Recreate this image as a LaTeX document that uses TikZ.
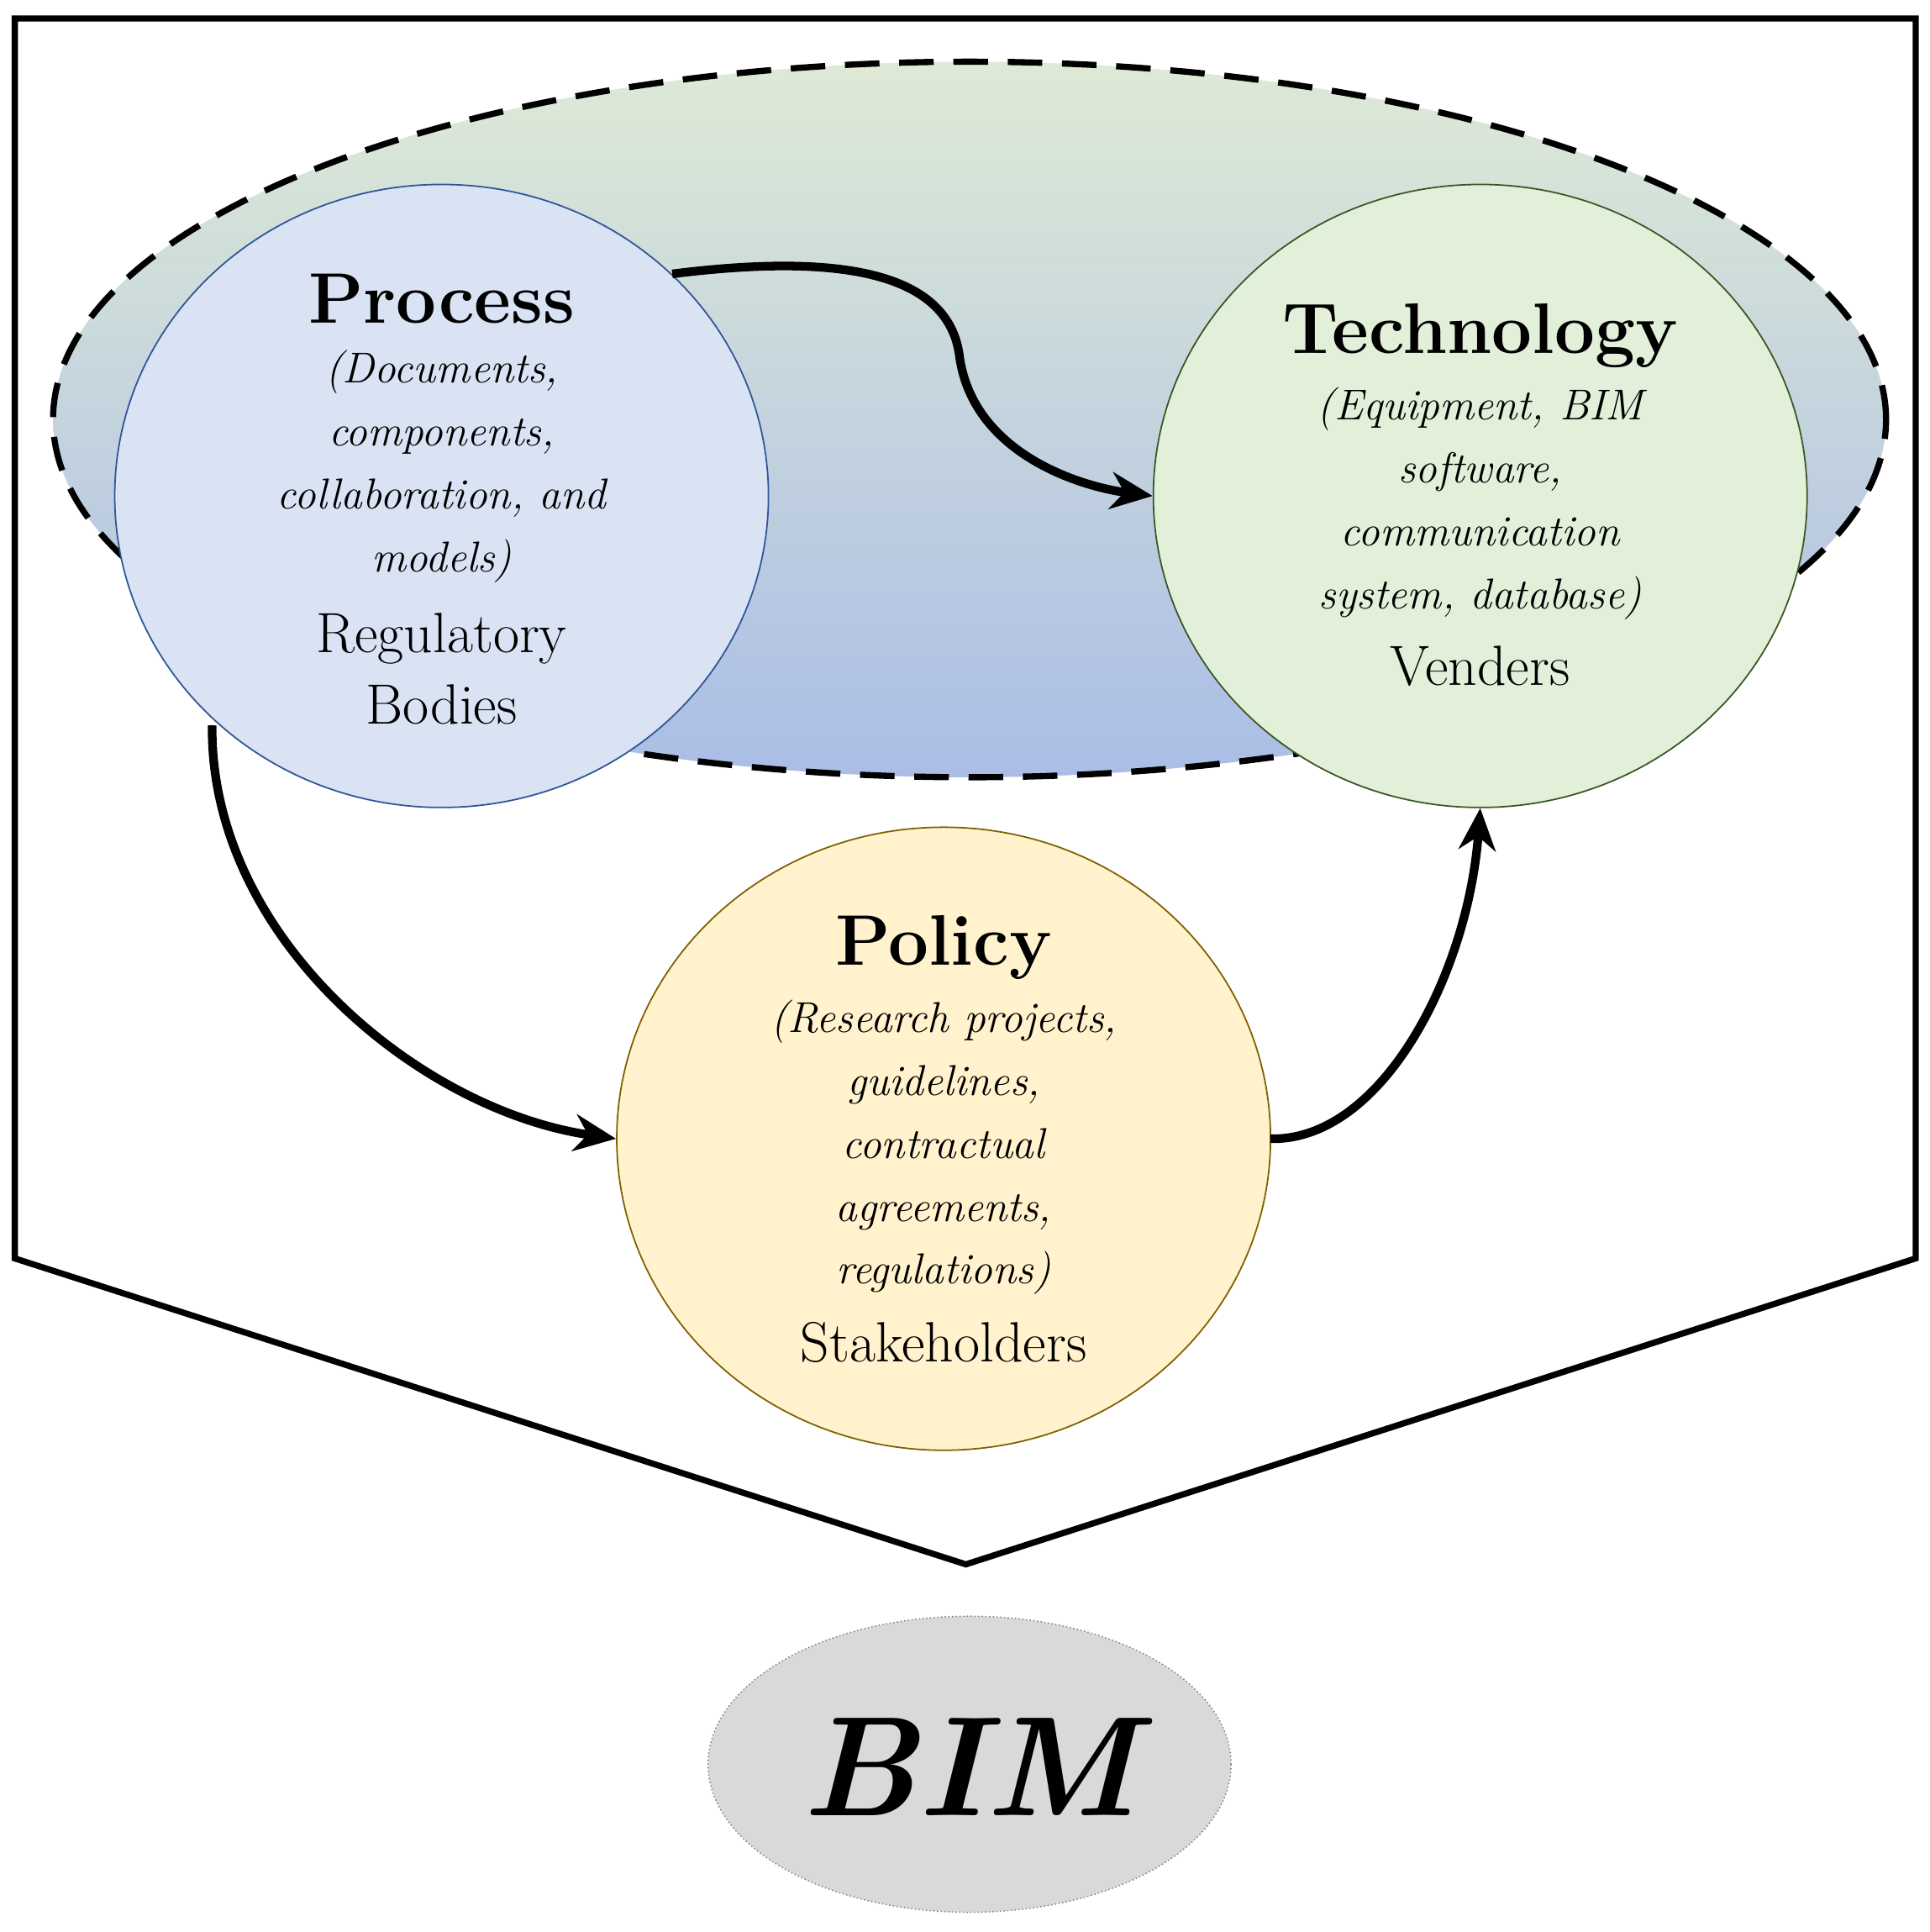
\documentclass[tikz,border=0pt]{standalone}
\usepackage{tikz}
\usetikzlibrary{shapes.geometric,arrows.meta}
\begin{document}
\begin{tikzpicture}[x=1pt,y=-1pt,
  circ/.style={ellipse,minimum width=530pt,minimum height=505pt,inner sep=0pt,line width=1.2pt,align=center},
  arr/.style={line width=7pt,-{Stealth[length=34pt,width=30pt]}},
  ttl/.style={font=\fontsize{58}{62}\selectfont\bfseries},
  itl/.style={font=\fontsize{35}{51}\selectfont\itshape},
  sub/.style={font=\fontsize{46}{58}\selectfont}]
\useasboundingbox (0,0) rectangle (1564,1566);
\fill[white] (0,0) rectangle (1564,1566);
\draw[line width=5pt,line join=miter] (12,15) -- (1553,15) -- (1553,1020) -- (783,1268) -- (12,1020) -- cycle;
\node[ellipse,minimum width=1486pt,minimum height=580pt,top color={rgb,255:red,222;green,234;blue,214},bottom color={rgb,255:red,170;green,189;blue,230},
  draw,line width=5pt,dash pattern=on 28pt off 16pt] (big) at (786,340) {};
\node[circ,draw={rgb,255:red,47;green,85;blue,151},fill={rgb,255:red,217;green,227;blue,243}] (proc) at (358,402) {};
\node[circ,draw={rgb,255:red,56;green,87;blue,35},fill={rgb,255:red,226;green,239;blue,217}] (tech) at (1200,402) {};
\node[circ,draw={rgb,255:red,127;green,96;blue,0},fill={rgb,255:red,255;green,242;blue,204}] (pol) at (765,923) {};
\node[ellipse,minimum width=424pt,minimum height=240pt,fill={rgb,255:red,217;green,217;blue,217},draw=gray,dotted,line width=1pt] (bim) at (786,1430) {};
\node[font=\fontsize{115}{120}\selectfont\bfseries\itshape] (bimt) at (786,1432) {BIM};
% texts
\node[ttl] (pt) at (358,242) {Process};
\node[itl,align=center] (pi) at (358,378) {(Documents,\\components,\\collaboration, and\\models)};
\node[sub,align=center] (ps) at (358,542) {Regulatory\\Bodies};
\node[ttl] (tt) at (1200,272) {Technology};
\node[itl,align=center] (ti) at (1200,408) {(Equipment, BIM\\software,\\communication\\system, database)};
\node[sub] (ts) at (1200,540) {Venders};
\node[ttl] (plt) at (765,768) {Policy};
\node[itl,align=center] (pli) at (765,930) {(Research projects,\\guidelines,\\contractual\\agreements,\\regulations)};
\node[sub] (pls) at (765,1088) {Stakeholders};
% arrows
\coordinate (a1) at (545,222);
\coordinate (a2) at (172,588);
\coordinate (a3) at (1030,923);
\draw[arr] (a1) .. controls (680,205) and (770,220) .. (778,290) .. controls (790,370) and (880,395) .. (tech.west);
\draw[arr] (a2) .. controls (170,760) and (340,900) .. (pol.west);
\draw[arr] (a3) .. controls (1120,925) and (1190,790) .. (tech.south);
\end{tikzpicture}
\end{document}
